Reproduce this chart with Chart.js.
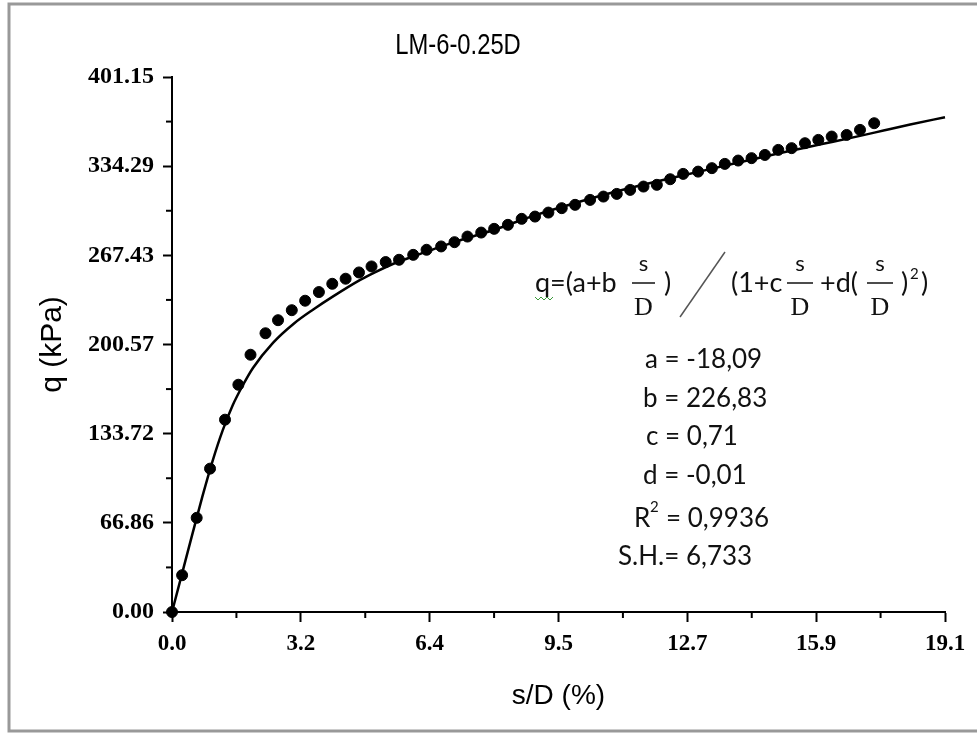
<!DOCTYPE html>
<html>
<head>
<meta charset="utf-8">
<script src="https://cdn.jsdelivr.net/npm/chart.js@4.4.0/dist/chart.umd.min.js"></script>
<style>
html, body { margin:0; padding:0; background:#fff; }
#wrap { width:977px; height:733px; }
</style>
</head>
<body>
<div id="wrap"><canvas id="loadChart" width="977" height="733"></canvas></div>
<script>
// measured points, s/D (%) and q (kPa)
var sdPoints = [0, 0.25, 0.61, 0.94, 1.31, 1.64, 1.94, 2.31, 2.62, 2.96, 3.29, 3.63, 3.96, 4.29, 4.62, 4.93, 5.28, 5.61,
  5.96, 6.29, 6.65, 6.98, 7.30, 7.64, 7.96, 8.30, 8.64, 8.97, 9.30, 9.63, 9.96, 10.33, 10.66, 10.99, 11.32, 11.65,
  11.98, 12.31, 12.63, 13.00, 13.34, 13.66, 13.99, 14.32, 14.65, 14.98, 15.31, 15.64, 15.97, 16.30, 16.67, 17.00, 17.35];
var qPoints = [0, 27.6, 70.6, 107.5, 144.2, 170.4, 192.9, 209.0, 218.8, 226.3, 233.4, 239.9, 246.1, 249.9, 254.6, 259.1,
  262.4, 264.1, 267.8, 271.6, 274.1, 277.3, 281.5, 284.5, 287.3, 290.3, 294.8, 296.5, 299.5, 302.8, 305.3, 309.0,
  311.5, 313.5, 316.5, 319.0, 320.3, 324.5, 328.5, 330.2, 332.8, 336.0, 338.5, 340.3, 342.7, 346.5, 347.8, 351.5,
  354.0, 356.5, 357.7, 361.5, 366.5];

// fitted curve
var fitSd = [0, 0.25, 0.5, 0.75, 1.0, 1.25, 1.5, 1.75, 2.0, 2.5, 3.0, 3.5, 4.0, 4.65, 5.0, 5.5, 6.0, 6.5, 7.0,
  8.0, 9.0, 10.0, 11.0, 12.0, 13.0, 14.0, 15.0, 16.0, 17.0, 17.58, 18.24, 19.1];
var fitQ = [0, 29, 58, 86.5, 113, 136, 155, 170, 183, 202, 216, 227, 237, 249, 254.5, 261.5, 267, 272.5, 277.5,
  287, 297.8, 307, 315.5, 323, 330, 337, 344, 350.5, 357, 361, 365.5, 371];

var xTickLabels = ['0.0', '3.2', '6.4', '9.5', '12.7', '15.9', '19.1'];
var yTickLabels = ['0.00', '66.86', '133.72', '200.57', '267.43', '334.29', '401.15'];
var xMax = 19.1, yMax = 401.15;

var chartTitle = 'LM-6-0.25D';
var xTitle = 's/D (%)';
var yTitle = 'q (kPa)';
var fitLabels = ['a = -18,09', 'b = 226,83', 'c = 0,71', 'd = -0,01'];
var r2Value = '= 0,9936';
var shLabel = 'S.H.= 6,733';

var sans = '"Liberation Sans", Arial, sans-serif';
var serif = '"Liberation Serif", "Times New Roman", serif';
var calib = 'Lato, "Open Sans", sans-serif';

function evenTicks(labels, max) {
  return function (scale) {
    scale.ticks = labels.map(function (l, i) { return { value: i * max / (labels.length - 1) }; });
  };
}

// frame, title, minor ticks, formula box text
var decorations = {
  id: 'decorations',
  afterDraw: function (chart) {
    var ctx = chart.ctx, xs = chart.scales.x, ys = chart.scales.y;
    ctx.save();

    ctx.strokeStyle = '#999';
    ctx.lineWidth = 3;
    ctx.strokeRect(9, 4, 1000, 727);

    // title in a condensed face
    ctx.save();
    ctx.fillStyle = '#000';
    ctx.font = '29px ' + sans;
    ctx.textAlign = 'center';
    ctx.textBaseline = 'alphabetic';
    ctx.translate(458, 54);
    ctx.scale(0.82, 1);
    ctx.fillText(chartTitle, 0, 0);
    ctx.restore();

    // minor ticks
    ctx.strokeStyle = '#000';
    ctx.lineWidth = 2;
    for (var i = 0; i < 6; i++) {
      var px = xs.getPixelForValue((i + 0.5) * xMax / 6);
      ctx.beginPath(); ctx.moveTo(px, xs.top); ctx.lineTo(px, xs.top + 6); ctx.stroke();
      var py = ys.getPixelForValue((i + 0.5) * yMax / 6);
      ctx.beginPath(); ctx.moveTo(ys.right, py); ctx.lineTo(ys.right - 6, py); ctx.stroke();
    }

    // formula
    ctx.fillStyle = '#111';
    ctx.textAlign = 'left';
    ctx.font = '27px ' + calib;
    ctx.fillText('q=(a+b', 535, 292);
    ctx.fillText(')', 664, 292);
    ctx.fillText('(1+c', 731, 292);
    ctx.fillText('+d(', 820, 292);
    ctx.fillText(')', 901, 292);
    ctx.fillText(')', 921, 292);
    ctx.font = '15px ' + calib;
    ctx.fillText('2', 910, 279);

    var fr = [[632, 655], [787, 813], [867, 893]];
    ctx.lineWidth = 1.5;
    ctx.strokeStyle = '#111';
    fr.forEach(function (f) {
      var cx = (f[0] + f[1]) / 2;
      ctx.beginPath(); ctx.moveTo(f[0], 283); ctx.lineTo(f[1], 283); ctx.stroke();
      ctx.textAlign = 'center';
      ctx.font = '22px ' + calib;
      ctx.fillText('s', cx, 271);
      ctx.font = '26px ' + serif;
      ctx.fillText('D', cx, 315);
    });
    ctx.strokeStyle = '#555';
    ctx.beginPath(); ctx.moveTo(680, 317); ctx.lineTo(725, 252); ctx.stroke();

    // spell-check squiggle under q
    ctx.strokeStyle = '#3a9a3a';
    ctx.lineWidth = 1;
    ctx.beginPath();
    ctx.moveTo(535, 297);
    for (var k = 0; k < 6; k++) ctx.lineTo(538 + k * 3, k % 2 ? 297 : 300);
    ctx.stroke();

    // parameters
    ctx.textAlign = 'left';
    ctx.font = '26px ' + calib;
    var lx = [645, 643, 646, 643];
    fitLabels.forEach(function (t, j) { ctx.fillText(t, lx[j], 368 + j * 38.7); });
    ctx.fillText('R', 634, 527);
    ctx.fillText(r2Value, 666, 527);
    ctx.fillText(shLabel, 618, 565);
    ctx.font = '15px ' + calib;
    ctx.fillText('2', 650, 512);

    ctx.restore();
  }
};

new Chart(document.getElementById('loadChart'), {
  type: 'scatter',
  data: {
    datasets: [{
      label: 'measured',
      data: sdPoints.map(function (x, i) { return { x: x, y: qPoints[i] }; }),
      backgroundColor: '#000',
      borderColor: '#000',
      pointRadius: 5.5,
      pointHoverRadius: 5.5,
      clip: false
    }, {
      label: 'fit',
      data: fitSd.map(function (x, i) { return { x: x, y: fitQ[i] }; }),
      showLine: true,
      borderColor: '#000',
      borderWidth: 2.5,
      pointRadius: 0,
      cubicInterpolationMode: 'monotone',
      fill: false,
      clip: false
    }]
  },
  options: {
    responsive: false,
    animation: false,
    devicePixelRatio: 1,
    layout: { padding: { top: 77, right: 32, bottom: 0, left: 0 } },
    plugins: { legend: { display: false }, tooltip: { enabled: false } },
    scales: {
      x: {
        type: 'linear', min: 0, max: xMax,
        afterBuildTicks: evenTicks(xTickLabels, xMax),
        afterFit: function (s) { s.height = 121; },
        border: { display: true, color: '#000', width: 2 },
        grid: { drawOnChartArea: false, drawTicks: true, tickLength: 10, tickColor: '#000', tickWidth: 2 },
        ticks: {
          autoSkip: false, maxRotation: 0, padding: 8, color: '#000',
          font: { family: serif, size: 23, weight: 'bold' },
          callback: function (v, i) { return xTickLabels[i]; }
        },
        title: { display: true, text: xTitle, color: '#000', font: { family: sans, size: 28 }, padding: { top: 0, bottom: 20 } }
      },
      y: {
        type: 'linear', min: 0, max: yMax,
        afterBuildTicks: evenTicks(yTickLabels, yMax),
        afterFit: function (s) { s.width = 172; },
        border: { display: true, color: '#000', width: 2 },
        grid: { drawOnChartArea: false, drawTicks: true, tickLength: 9, tickColor: '#000', tickWidth: 2 },
        ticks: {
          autoSkip: false, padding: 9, color: '#000',
          font: { family: serif, size: 24, weight: 'bold' },
          callback: function (v, i) { return yTickLabels[i]; }
        },
        title: { display: true, text: yTitle, color: '#000', font: { family: sans, size: 30 }, padding: { top: 35, bottom: 0 } }
      }
    }
  },
  plugins: [decorations]
});
</script>
</body>
</html>
